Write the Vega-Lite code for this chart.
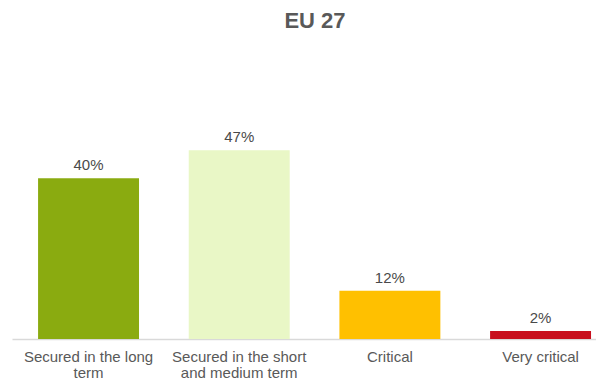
{
  "$schema": "https://vega.github.io/schema/vega-lite/v6.json",
  "width": 584,
  "height": 241,
  "autosize": {"type": "none"},
  "padding": {"left": 12, "top": 98, "right": 0, "bottom": 43},
  "background": "white",
  "title": {
    "text": "EU 27",
    "fontSize": 22,
    "fontWeight": "bold",
    "font": "Liberation Sans",
    "color": "#595959",
    "anchor": "middle",
    "offset": 65,
    "dx": 11
  },
  "data": {
    "values": [
      {"category": "Secured in the long term", "value": 40, "label": "40%"},
      {"category": "Secured in the short and medium term", "value": 47, "label": "47%"},
      {"category": "Critical", "value": 12, "label": "12%"},
      {"category": "Very critical", "value": 2, "label": "2%"}
    ]
  },
  "encoding": {
    "x": {
      "field": "category",
      "type": "nominal",
      "sort": null,
      "scale": {"paddingInner": 0.33, "paddingOuter": 0.103, "align": 0.84},
      "axis": {
        "title": null,
        "labelAngle": 0,
        "labelFont": "Liberation Sans",
        "labelFontSize": 15,
        "labelColor": "#595959",
        "labelPadding": 10,
        "labelLineHeight": 16,
        "labelLimit": 200,
        "ticks": false,
        "domainColor": "#d9d9d9",
        "domainWidth": 1.5,
        "labelExpr": "datum.value == 'Secured in the long term' ? ['Secured in the long', 'term'] : datum.value == 'Secured in the short and medium term' ? ['Secured in the short', 'and medium term'] : datum.value"
      }
    },
    "y": {
      "field": "value",
      "type": "quantitative",
      "scale": {"domain": [0, 60]},
      "axis": null
    }
  },
  "layer": [
    {
      "mark": {"type": "bar"},
      "encoding": {
        "color": {
          "field": "category",
          "type": "nominal",
          "sort": null,
          "scale": {"range": ["#8aab10", "#e9f7c6", "#ffc000", "#c8101e"]},
          "legend": null
        }
      }
    },
    {
      "mark": {"type": "text", "baseline": "alphabetic", "dy": -8, "font": "Liberation Sans", "fontSize": 15, "color": "#4a4a4a"},
      "encoding": {"text": {"field": "label"}}
    }
  ],
  "config": {"view": {"stroke": null}}
}
